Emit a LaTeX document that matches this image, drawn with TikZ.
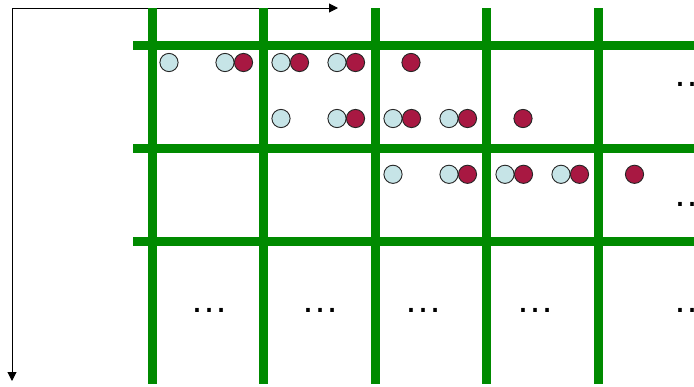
\documentclass[tikz,border=0pt]{standalone}
\usepackage{fontspec}
\setmainfont{Liberation Sans}
\usetikzlibrary{arrows.meta}
\definecolor{gridgreen}{RGB}{0,138,0}
\definecolor{lightc}{RGB}{198,228,231}
\definecolor{redc}{RGB}{168,24,66}
\tikzset{
  gridline/.style={draw=gridgreen, line width=9pt},
  axis/.style={draw=black, line width=1pt, -{Triangle[length=9pt,width=9pt]}},
  lcirc/.style={circle, draw=black!85, line width=0.9pt, fill=lightc, minimum size=18.2pt, inner sep=0pt},
  rcirc/.style={circle, draw=black!85, line width=0.9pt, fill=redc, minimum size=18.2pt, inner sep=0pt},
  dots/.style={font=\fontsize{38}{38}\selectfont, anchor=base, inner sep=0pt}
}
\begin{document}
\begin{tikzpicture}[x=1pt, y=-1pt]
\useasboundingbox (0,0) rectangle (694,386);
\clip (0,0) rectangle (694,386);
% axes
\coordinate (O) at (12,8);
\coordinate (X) at (338,8);
\coordinate (Y) at (12,381);
\draw[axis] (O) -- (X);
\draw[axis] (O) -- (Y);
% grid
\foreach \y in {45.5,148.3,241.8} \draw[gridline] (133.3,\y) -- (700,\y);
\foreach \x in {152,263.6,375,486.6,598} \draw[gridline] (\x,8.3) -- (\x,384);
% row 1
\foreach \x [count=\i] in {169,225,281,337} \node[lcirc] (a\i) at (\x,62.5) {};
\foreach \x [count=\i] in {243.5,299.5,355.5,411} \node[rcirc] (ar\i) at (\x,62.5) {};
% row 2
\foreach \x [count=\i] in {281,337,393,449} \node[lcirc] (b\i) at (\x,118.5) {};
\foreach \x [count=\i] in {355.5,411.5,467.5,523} \node[rcirc] (br\i) at (\x,118.5) {};
% row 3
\foreach \x [count=\i] in {393,449,505,561} \node[lcirc] (c\i) at (\x,174.3) {};
\foreach \x [count=\i] in {467.5,523.5,579.5,634.5} \node[rcirc] (cr\i) at (\x,174.3) {};
% ellipses
\node[dots] (e1) at (692,86.3) {…};
\node[dots] (e2) at (692,206.3) {…};
\foreach \x [count=\i] in {209.5,320.6,423.5,535,692} \node[dots] (f\i) at (\x,312) {…};
\end{tikzpicture}
\end{document}
